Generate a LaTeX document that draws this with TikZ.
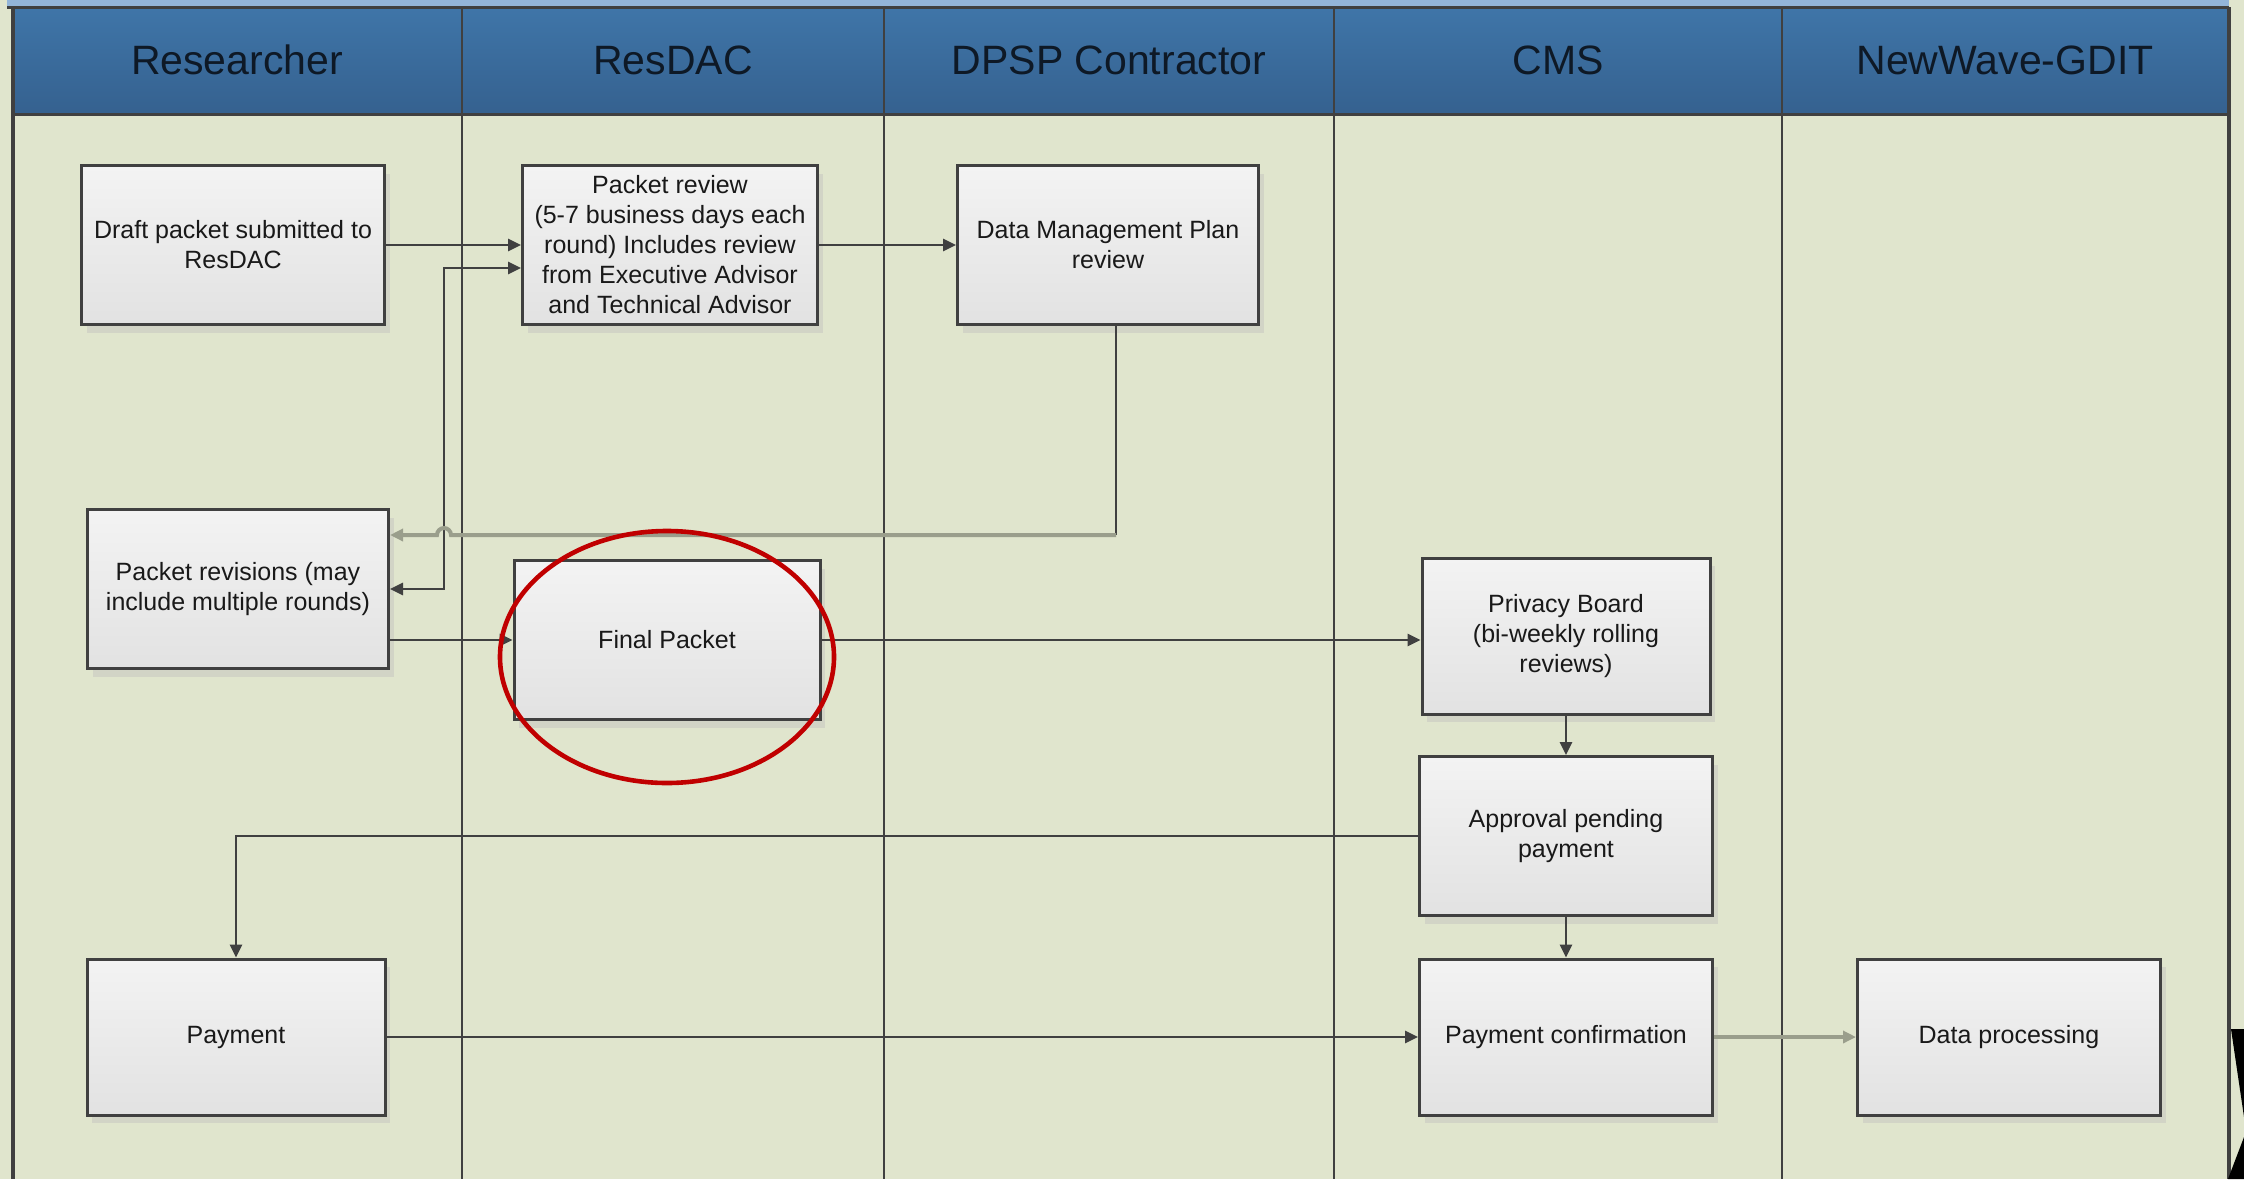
\documentclass[tikz,border=0pt]{standalone}
\usepackage{fontspec}
\setmainfont{Liberation Sans}
\usetikzlibrary{arrows.meta,shadows,calc}
\definecolor{bg}{HTML}{E0E5CD}
\definecolor{hdtop}{HTML}{3F75A8}
\definecolor{hdbot}{HTML}{35618F}
\definecolor{strip}{HTML}{93B5D9}
\definecolor{ink}{HTML}{404040}
\definecolor{boxtop}{HTML}{F3F3F3}
\definecolor{boxbot}{HTML}{E2E2E2}
\definecolor{shad}{HTML}{D2D4C6}
\definecolor{soft}{HTML}{9A9E8C}
\definecolor{ring}{HTML}{C00000}
\definecolor{hdtext}{HTML}{0E1926}
\begin{document}
\begin{tikzpicture}[x=0.5pt,y=-0.5pt,
  box/.style={draw=ink, line width=1.5pt, top color=boxtop, bottom color=boxbot,
    inner sep=0pt, align=center, text=black!90,
    font=\fontsize{12.5}{15}\selectfont,
    minimum height=79.5pt,
    drop shadow={shadow xshift=2.5pt, shadow yshift=-4pt, fill=shad, opacity=1}},
  hdr/.style={inner sep=0pt, text=hdtext, font=\fontsize{20.5}{24}\selectfont},
  tip/.tip={Triangle[length=6.5pt,width=6pt]},
  conn/.style={draw=ink, line width=1.3pt},
  conngray/.style={draw=soft, line width=2pt},
  lane/.style={draw=ink, line width=1.3pt},
  border/.style={draw=ink, line width=2.2pt}]
\useasboundingbox (0,0) rectangle (2244,1179);
\fill[bg] (0,0) rectangle (2244,1179);
% header band
\fill[strip] (7,0) rectangle (2229,7);
\shade[top color=hdtop, bottom color=hdbot] (13,8) rectangle (2229,115);
\draw[ink, line width=1.5pt] (7,7.5) -- (2229,7.5);
\draw[ink, line width=1.5pt] (13,114.5) -- (2229,114.5);
% lanes
\foreach \lx in {462,884,1334,1782} \draw[lane] (\lx,8) -- (\lx,1179);
\draw[border] (13,7) -- (13,1179);
\draw[border] (2229,7) -- (2229,1179);
% cut-off glyph at the right edge
\fill[black] (2231,1029) -- (2244,1029) -- (2244,1117) -- cycle;
\fill[black] (2244,1137) -- (2244,1179) -- (2228,1179) -- cycle;
% lane titles
\node[hdr] (hR) at (237,60) {Researcher};
\node[hdr] (hD) at (673,60) {ResDAC};
\node[hdr] (hP) at (1109,60) {DPSP Contractor};
\node[hdr] (hC) at (1558,60) {CMS};
\node[hdr] (hN) at (2005,60) {NewWave-GDIT};
% boxes
\node[box, minimum width=151.5pt] (draft) at (233,245) {Draft packet submitted to\\ResDAC};
\node[box, minimum width=147.5pt] (pr) at (670,245) {Packet review\\(5-7 business days each\\round) Includes review\\from Executive Advisor\\and Technical Advisor};
\node[box, minimum width=150.5pt] (dmp) at (1108,245) {Data Management Plan\\review};
\node[box, minimum width=150.5pt] (rev) at (238,589) {Packet revisions (may\\include multiple rounds)};
\node[box, minimum width=153pt] (fin) at (667,640) {Final Packet};
\node[box, minimum width=144pt, minimum height=78pt] (priv) at (1566,636) {Privacy Board\\(bi-weekly rolling\\reviews)};
\node[box, minimum width=146.5pt] (appr) at (1566,836) {Approval pending\\payment};
\node[box, minimum width=149pt, minimum height=78pt] (pay) at (236,1037) {Payment};
\node[box, minimum width=146.5pt, minimum height=78pt] (pconf) at (1566,1037) {Payment confirmation};
\node[box, minimum width=151.5pt, minimum height=78pt] (dp) at (2009,1037) {Data processing};
% connectors
\coordinate (vx) at (444,268);
\coordinate (jp) at (444,535);
\coordinate (dmpout) at ($(dmp.south)+(8,0)$);
\draw[conn, -tip] (draft.east) -- (pr.west);
\draw[conn, -tip] (pr.east) -- (dmp.west);
\draw[conn, tip-tip] (rev.east) -| (vx) -- (pr.west |- vx);
\draw[conn] (dmpout) -- (dmpout |- jp);
\draw[conngray, -tip] (dmpout |- jp) -- ($(jp)+(7,0)$) arc[start angle=0, end angle=-180, radius=7] -- (rev.east |- jp);
\draw[conn, -tip] (rev.east |- fin.west) -- (fin.west);
\draw[conn, -tip] (fin.east) -- (priv.west |- fin.east);
\draw[conn, -tip] (priv.south) -- (appr.north);
\draw[conn, -tip] (appr.west) -| (pay.north);
\draw[conn, -tip] (appr.south) -- (pconf.north);
\draw[conn, -tip] (pay.east) -- (pconf.west);
\draw[conngray, -tip] (pconf.east) -- (dp.west);
% highlight ring
\draw[ring, line width=2.3pt] ($(fin.center)+(0,17)$) ellipse [x radius=167, y radius=126];
\end{tikzpicture}
\end{document}
